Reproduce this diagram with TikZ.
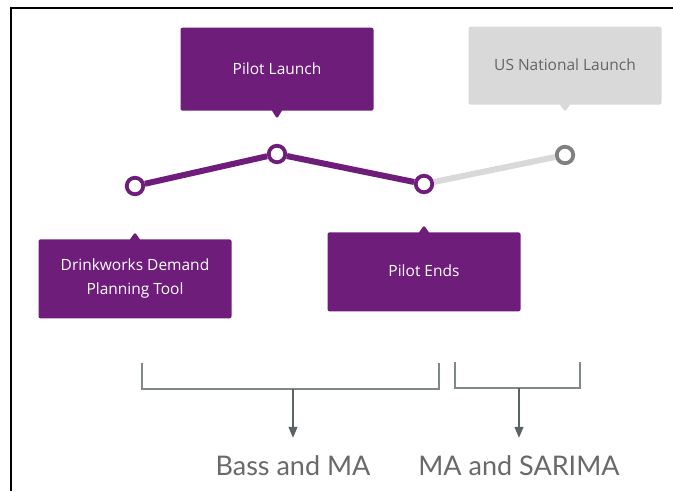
\documentclass[tikz,border=0pt]{standalone}
\usepackage{fontspec}
\setmainfont{Open Sans}
\newfontfamily\modelfont{Lato}
\usetikzlibrary{positioning, shapes.callouts, arrows.meta}

\definecolor{pilotPurple}{RGB}{111,29,123}
\definecolor{futureGray}{RGB}{217,217,217}
\definecolor{futureText}{RGB}{100,100,100}
\definecolor{ringGray}{RGB}{128,128,128}
\definecolor{bracketGray}{RGB}{128,136,136}
\definecolor{feedGray}{RGB}{90,100,100}
\definecolor{modelText}{RGB}{105,105,105}

\begin{document}
\begin{tikzpicture}[
  x=1pt, y=-1pt,
  font=\fontsize{15.5}{24}\selectfont,
  milestone/.style={circle, draw=pilotPurple, line width=3.8pt, fill=white, minimum size=16.5pt, inner sep=0pt},
  tagBox/.style={rectangle callout, fill=pilotPurple, text=white, minimum width=193pt, inner sep=0pt, rounded corners=2pt, align=center, callout pointer width=10pt},
  pastLine/.style={draw=pilotPurple, line width=6pt},
  futureLine/.style={draw=futureGray, line width=6pt},
  bracket/.style={draw=bracketGray, line width=1.4pt},
  feed/.style={draw=feedGray, line width=1.4pt, -{Triangle[width=9pt,length=11pt]}, shorten >=18pt},
  modelLabel/.style={font=\modelfont\fontsize{27}{32}\selectfont, text=modelText, inner sep=0pt}
]
  % frame edges
  \useasboundingbox (0,0) rectangle (673,491);
  \draw[line width=2pt] (673,8) -- (11,8) -- (11,491);

  % timeline points
  \node [milestone] (kickoff) at (135,186) {};
  \node [milestone] (launch) at (277,154) {};
  \node [milestone] (pilotend) at (424,184) {};
  \node [milestone, draw=ringGray] (national) at (565,155) {};

  \draw [pastLine] (kickoff) -- (launch) -- (pilotend);
  \draw [futureLine] (pilotend) -- (national);

  % milestone tags
  \node [tagBox, minimum height=83pt, callout relative pointer={(0pt,-8pt)}, above=33pt of launch] (launchTag) {Pilot Launch};
  \node [tagBox, fill=futureGray, text=futureText, minimum height=78pt, callout relative pointer={(0pt,-7pt)}, above=40pt of national] (nationalTag) {\raisebox{3pt}{US National Launch}};
  \node [tagBox, minimum height=79pt, callout relative pointer={(0pt,7pt)}, below=43pt of kickoff] (toolTag) {Drinkworks Demand\\Planning Tool};
  \node [tagBox, minimum height=79pt, callout relative pointer={(0pt,7pt)}, below=38pt of pilotend] (endTag) {\raisebox{2pt}{Pilot Ends}};

  % forecasting models
  \node [modelLabel] (bass) at (293,466) {Bass and MA};
  \node [modelLabel] (sarima) at (519,466) {MA and SARIMA};

  \coordinate (bassL) at (142,363);
  \coordinate (bassR) at (439,363);
  \coordinate (bassMid) at (293,389);
  \coordinate (sarimaL) at (455,362);
  \coordinate (sarimaR) at (580,362);
  \coordinate (sarimaMid) at (519,388);

  \draw [bracket] (bassL) |- (bassMid) -| (bassR);
  \draw [bracket] (sarimaL) |- (sarimaMid) -| (sarimaR);
  \draw [feed] (bassMid) -- (bass);
  \draw [feed] (sarimaMid) -- (sarima);
\end{tikzpicture}
\end{document}
